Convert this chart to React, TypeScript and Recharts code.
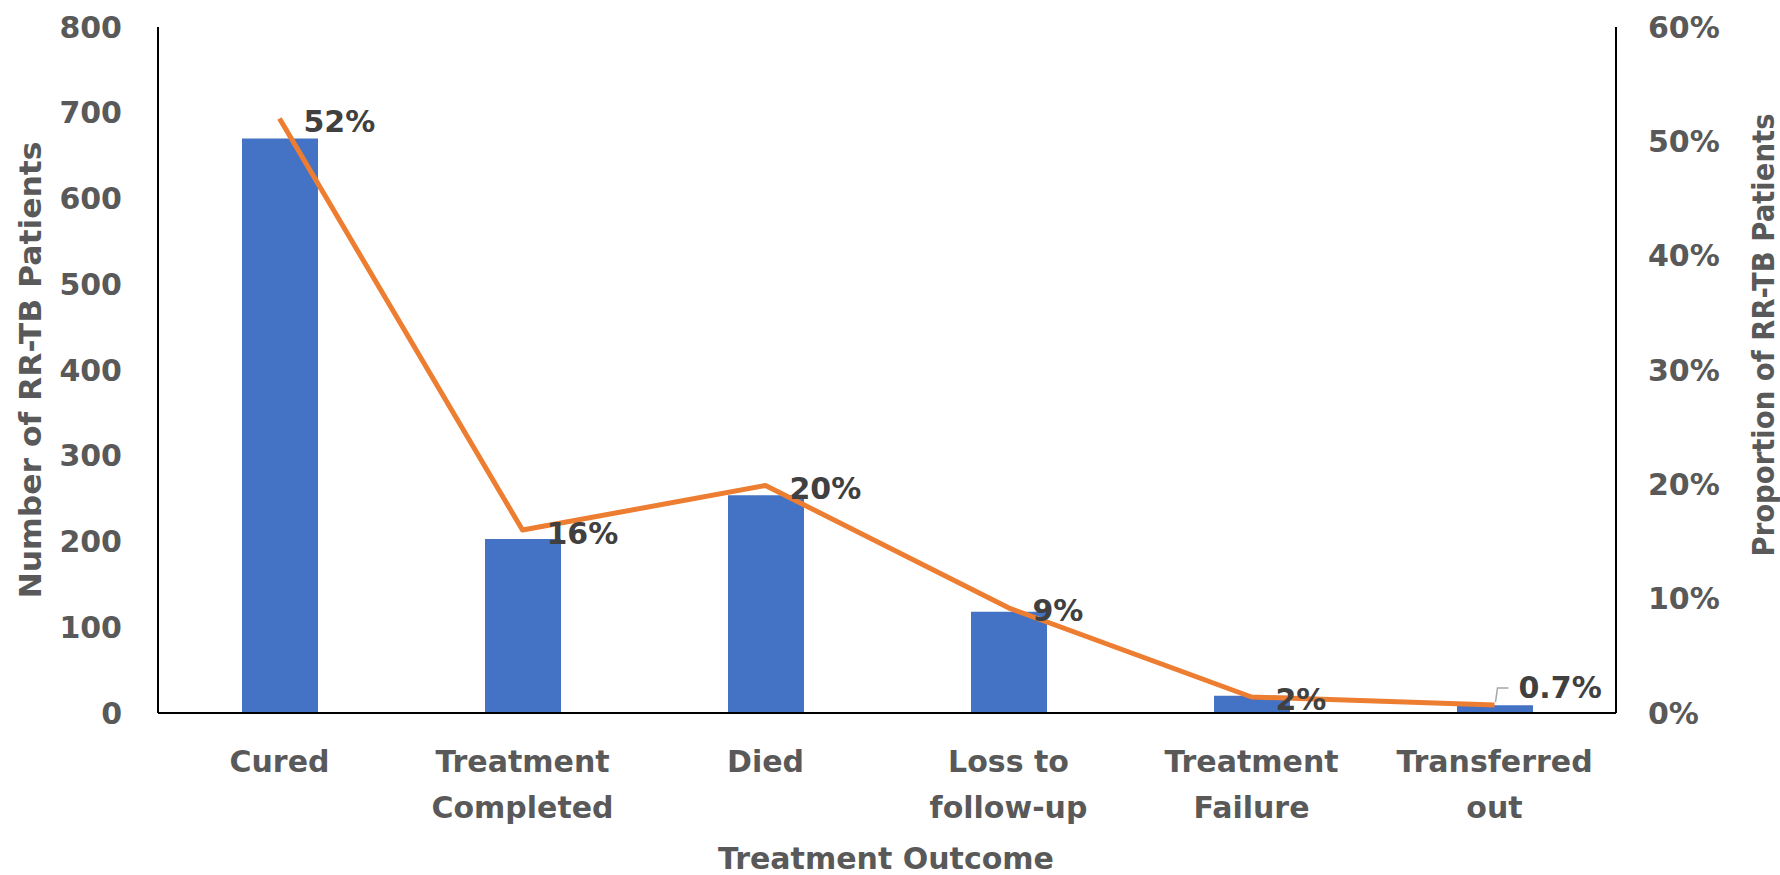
import {
  Bar,
  ComposedChart,
  LabelList,
  Line,
  XAxis,
  YAxis,
} from "recharts";

const categories = [
  "Cured",
  "Treatment\nCompleted",
  "Died",
  "Loss to\nfollow-up",
  "Treatment\nFailure",
  "Transferred\nout",
];
const patients = [670, 203, 254, 118, 20, 9];
const proportion = [52.0, 16.0, 19.9, 9.2, 1.4, 0.7];
const proportionLabels = ["52%", "16%", "20%", "9%", "2%", "0.7%"];
const countTicks = [0, 100, 200, 300, 400, 500, 600, 700, 800];
const pctTicks = [0, 10, 20, 30, 40, 50, 60];

const data = categories.map((name, i) => ({
  name,
  patients: patients[i],
  proportion: proportion[i],
}));

const FONT = "'DejaVu Sans', sans-serif";
const GREY = "#595959";

function CategoryTick(props: any) {
  const { x, y, payload } = props;
  const lines = String(payload.value).split("\n");
  return (
    <g>
      {lines.map((ln, i) => (
        <text
          key={i}
          x={x}
          y={y + 48 + i * 46}
          textAnchor="middle"
          dominantBaseline="central"
          fill={GREY}
          fontFamily={FONT}
          fontWeight="bold"
          fontSize={30}
        >
          {ln}
        </text>
      ))}
    </g>
  );
}

function PctLabel(props: any) {
  const { x, y, index } = props;
  const text = proportionLabels[index];
  const last = index === proportionLabels.length - 1;
  const ty = last ? y - 17 : y + 3;
  return (
    <g>
      {last && (
        <path
          d={`M${x + 1},${y - 3} L${x + 3},${y - 17} L${x + 14},${y - 17}`}
          fill="none"
          stroke="#A6A6A6"
          strokeWidth={1.5}
        />
      )}
      <text
        x={x + 24}
        y={ty}
        dominantBaseline="central"
        fill="#404040"
        fontFamily={FONT}
        fontWeight="bold"
        fontSize={30}
      >
        {text}
      </text>
    </g>
  );
}

const tickStyle = {
  fill: GREY,
  fontFamily: FONT,
  fontWeight: "bold",
  fontSize: 30,
};

function VTitle({ x, y, len, text }: { x: number; y: number; len: number; text: string }) {
  return (
    <text
      x={x}
      y={y}
      transform={`rotate(-90 ${x} ${y})`}
      textAnchor="middle"
      dominantBaseline="central"
      fill={GREY}
      fontFamily={FONT}
      fontWeight="bold"
      fontSize={30}
      textLength={len}
      lengthAdjust="spacingAndGlyphs"
    >
      {text}
    </text>
  );
}

export default function App() {
  return (
    <div style={{ position: "absolute", left: 0, top: 0, background: "#fff" }}>
      <ComposedChart
        width={1780}
        height={875}
        data={data}
        margin={{ top: 27, right: 0, bottom: 0, left: 0 }}
      >
        <XAxis
          dataKey="name"
          height={162}
          tickLine={false}
          tickSize={0}
          tickMargin={0}
          interval={0}
          axisLine={{ stroke: "#000", strokeWidth: 2 }}
          tick={<CategoryTick />}
          label={{
            content: () => (
              <text
                x={886}
                y={858}
                textAnchor="middle"
                dominantBaseline="central"
                fill={GREY}
                fontFamily={FONT}
                fontWeight="bold"
                fontSize={30}
              >
                Treatment Outcome
              </text>
            ),
          }}
        />
        <YAxis
          yAxisId="left"
          width={158}
          domain={[0, 800]}
          ticks={countTicks}
          tickLine={false}
          tickSize={0}
          tickMargin={36}
          axisLine={{ stroke: "#000", strokeWidth: 2 }}
          tick={tickStyle}
          label={{
            content: () => (
              <VTitle x={30} y={370} len={457} text="Number of RR-TB Patients" />
            ),
          }}
        />
        <YAxis
          yAxisId="right"
          orientation="right"
          width={164}
          domain={[0, 60]}
          ticks={pctTicks}
          tickFormatter={(v: number) => `${v}%`}
          tickLine={false}
          tickSize={0}
          tickMargin={32}
          axisLine={{ stroke: "#000", strokeWidth: 2 }}
          tick={tickStyle}
          label={{
            content: () => (
              <VTitle x={1763} y={335} len={443} text="Proportion of RR-TB Patients" />
            ),
          }}
        />
        <Bar
          yAxisId="left"
          dataKey="patients"
          fill="#4472C4"
          barSize={76}
          isAnimationActive={false}
        />
        <Line
          yAxisId="right"
          dataKey="proportion"
          type="linear"
          stroke="#ED7D31"
          strokeWidth={5}
          strokeLinejoin="round"
          dot={false}
          activeDot={false}
          isAnimationActive={false}
        >
          <LabelList dataKey="proportion" content={<PctLabel />} />
        </Line>
      </ComposedChart>
    </div>
  );
}
